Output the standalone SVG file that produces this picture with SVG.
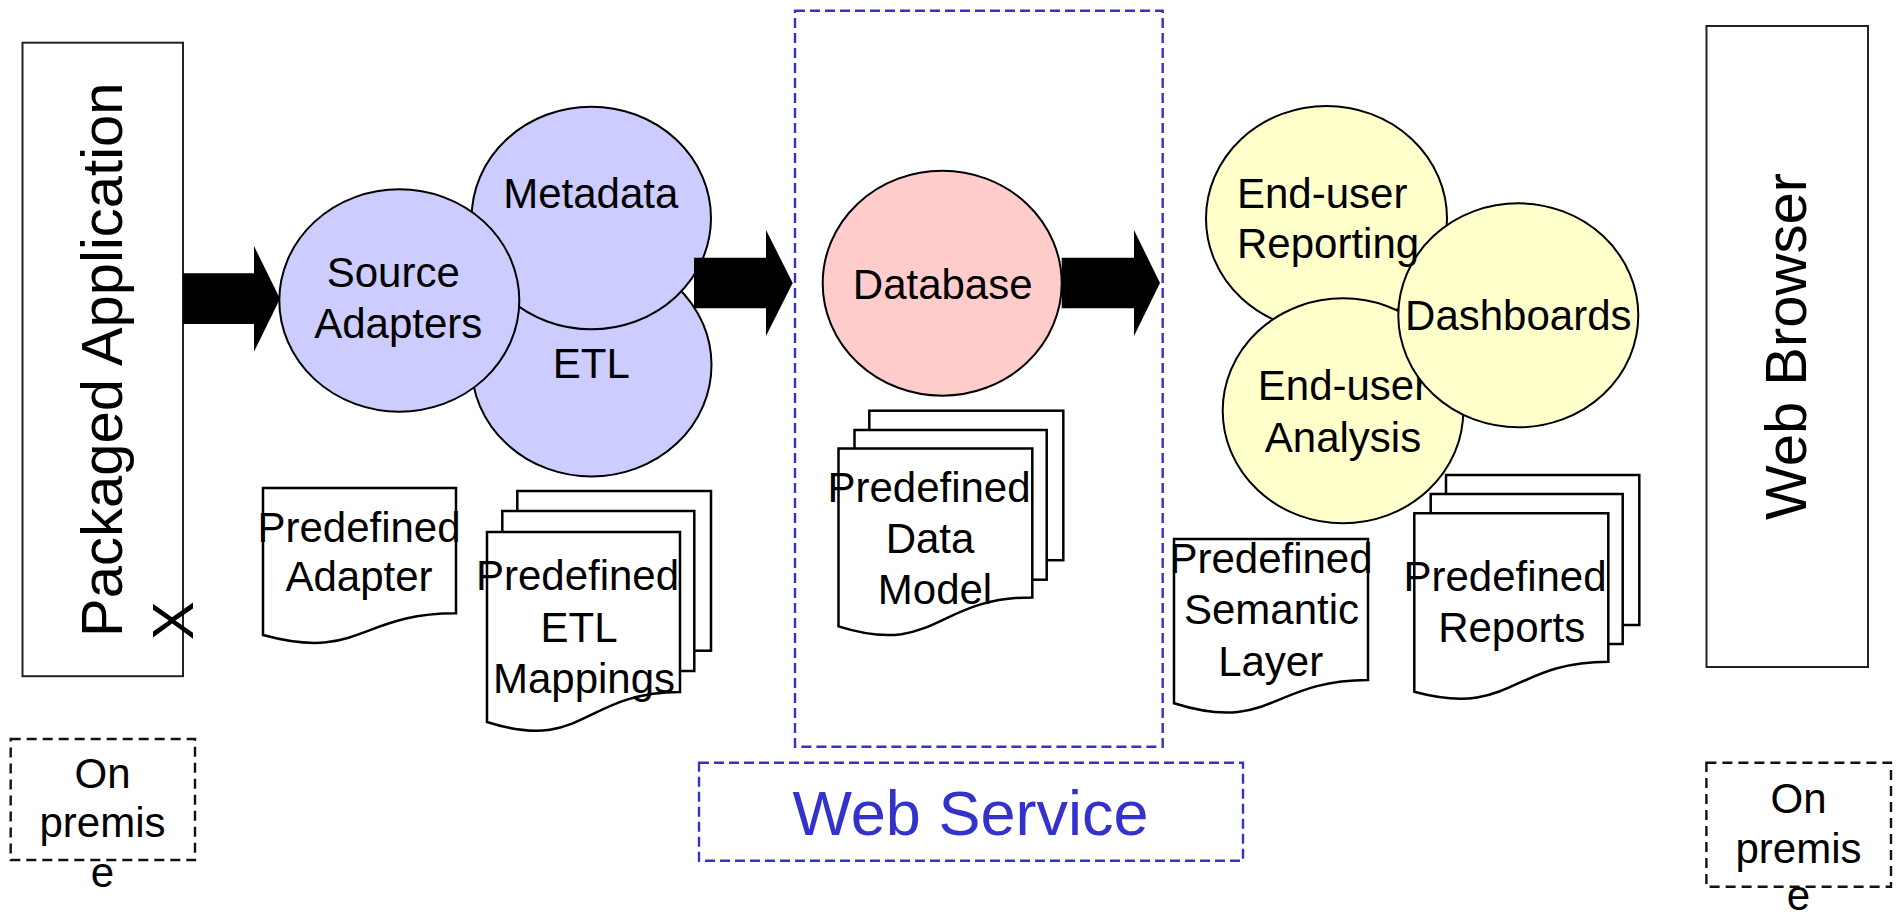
<svg xmlns="http://www.w3.org/2000/svg" width="1902" height="915" viewBox="0 0 1902 915">
<style>
text{font-family:"Liberation Sans",Arial,sans-serif;font-size:42px;fill:#000}
.big{font-size:58px}
.ws{font-size:63px;fill:#3333CC}
.c{text-anchor:middle}
.box{fill:#fff;stroke:#222;stroke-width:2}
.blue{fill:none;stroke:#3333CC;stroke-width:2.4;stroke-dasharray:10 5}
.bdash{fill:none;stroke:#111;stroke-width:2.4;stroke-dasharray:10 6}
.lav{fill:#CCCCFF;stroke:#000;stroke-width:2}
.pink{fill:#FFCCCC;stroke:#000;stroke-width:2}
.yel{fill:#FFFFCC;stroke:#000;stroke-width:2}
.doc{fill:#fff;stroke:#000;stroke-width:2.5}
.arrow{fill:#000}
</style>
<rect width="1902" height="915" fill="#fff"/>

<g id="web-service-zone">
<rect class="blue" x="795" y="10.7" width="367.7" height="736"/>
</g>
<g id="web-service-label">
<rect class="blue" x="699" y="762.7" width="544" height="98"/>
<text class="ws c" x="970.5" y="835">Web Service</text>
</g>

<g id="packaged-application">
<rect class="box" x="22.5" y="42.7" width="160.5" height="633.5"/>
<text class="big" transform="translate(122,637) rotate(-90)">Packaged Application</text>
<text class="big" transform="translate(193,640) rotate(-90)">X</text>
</g>

<g id="on-premise-left">
<rect class="bdash" x="10.7" y="739" width="184.3" height="121"/>
<text class="c" x="102.5" y="788.3">On</text>
<text class="c" x="102.5" y="836.7">premis</text>
<text class="c" x="102.5" y="886.7">e</text>
</g>

<g id="etl">
<ellipse class="lav" cx="591.5" cy="365" rx="120" ry="111.5"/>
<text class="c" x="591.3" y="378.3">ETL</text>
</g>
<g id="metadata">
<ellipse class="lav" cx="591.3" cy="218" rx="119.7" ry="111.3"/>
<text class="c" x="590.8" y="208.3">Metadata</text>
</g>
<g id="source-adapters">
<ellipse class="lav" cx="399.3" cy="300.5" rx="120" ry="111.2"/>
<text class="c" x="393.3" y="286.7">Source</text>
<text class="c" x="398.3" y="338.3">Adapters</text>
</g>

<g id="predefined-adapter">
<path class="doc" d="M263,488 H456 V613.3 C359.5,613.3 359.5,661.4 263,635 Z"/>
<text class="c" x="359" y="541.7">Predefined</text>
<text class="c" x="359" y="590.7">Adapter</text>
</g>

<g id="predefined-etl-mappings">
<rect class="doc" x="517.3" y="491" width="193.7" height="159.7"/>
<rect class="doc" x="502.3" y="511" width="192" height="160"/>
<path class="doc" d="M487,532 H680 V692 C583.5,692 583.5,753 487,722 Z"/>
<text class="c" x="577.5" y="590">Predefined</text>
<text class="c" x="579" y="641.7">ETL</text>
<text class="c" x="584" y="693">Mappings</text>
</g>

<g id="database">
<ellipse class="pink" cx="942.2" cy="283.2" rx="119.5" ry="112.5"/>
<text class="c" x="942.7" y="299">Database</text>
</g>

<g id="predefined-data-model">
<rect class="doc" x="869.3" y="410.7" width="194" height="149.5"/>
<rect class="doc" x="854.5" y="430" width="192.2" height="149.7"/>
<path class="doc" d="M838.5,448.5 H1032.3 V597.4 C935.4,597.4 935.4,657 838.5,626.4 Z"/>
<text class="c" x="929" y="501.8">Predefined</text>
<text class="c" x="930" y="553.4">Data</text>
<text class="c" x="935" y="604.2">Model</text>
</g>

<g id="end-user-reporting">
<ellipse class="yel" cx="1326.5" cy="218.5" rx="120.5" ry="112.5"/>
</g>
<g id="end-user-analysis">
<ellipse class="yel" cx="1343" cy="410.8" rx="120.3" ry="112.5"/>
<text class="c" x="1343" y="400">End-user</text>
<text class="c" x="1343" y="451.7">Analysis</text>
</g>
<g id="dashboards">
<ellipse class="yel" cx="1518.3" cy="315.3" rx="120" ry="112"/>
<text class="c" x="1518.3" y="330">Dashboards</text>
</g>
<g id="end-user-reporting-label">
<text x="1237" y="208.3">End-user</text>
<text x="1237" y="258.3">Reporting</text>
</g>

<g id="predefined-semantic-layer">
<path class="doc" d="M1174,539 H1368 V680 C1271,680 1271,733.7 1174,703.3 Z"/>
<text class="c" x="1271" y="573.3">Predefined</text>
<text class="c" x="1271.5" y="624.3">Semantic</text>
<text class="c" x="1270.7" y="676">Layer</text>
</g>

<g id="predefined-reports">
<rect class="doc" x="1446" y="475" width="193.3" height="150"/>
<rect class="doc" x="1430.7" y="494" width="192" height="150"/>
<path class="doc" d="M1414.3,513.3 H1608.3 V661.7 C1511.3,661.7 1511.3,718 1414.3,691.7 Z"/>
<text class="c" x="1505" y="590.7">Predefined</text>
<text class="c" x="1511.7" y="641.7">Reports</text>
</g>

<g id="web-browser">
<rect class="box" x="1706.5" y="26" width="161.5" height="641"/>
<text class="big c" transform="translate(1806,346.5) rotate(-90)">Web Browser</text>
</g>

<g id="on-premise-right">
<rect class="bdash" x="1706.4" y="762.7" width="184.6" height="124"/>
<text class="c" x="1798.5" y="812.7">On</text>
<text class="c" x="1798.5" y="862.7">premis</text>
<text class="c" x="1798.5" y="910">e</text>
</g>

<g id="connectors">
<polygon class="arrow" points="183,273.3 254,273.3 254,246 280,298.7 254,351.7 254,324 183,324"/>
<polygon class="arrow" points="694,257.7 766,257.7 766,230 792.7,283 766,336 766,308.3 694,308.3"/>
<polygon class="arrow" points="1061.7,257.7 1134,257.7 1134,230 1160,283 1134,336 1134,308.3 1061.7,308.3"/>
</g>
</svg>
